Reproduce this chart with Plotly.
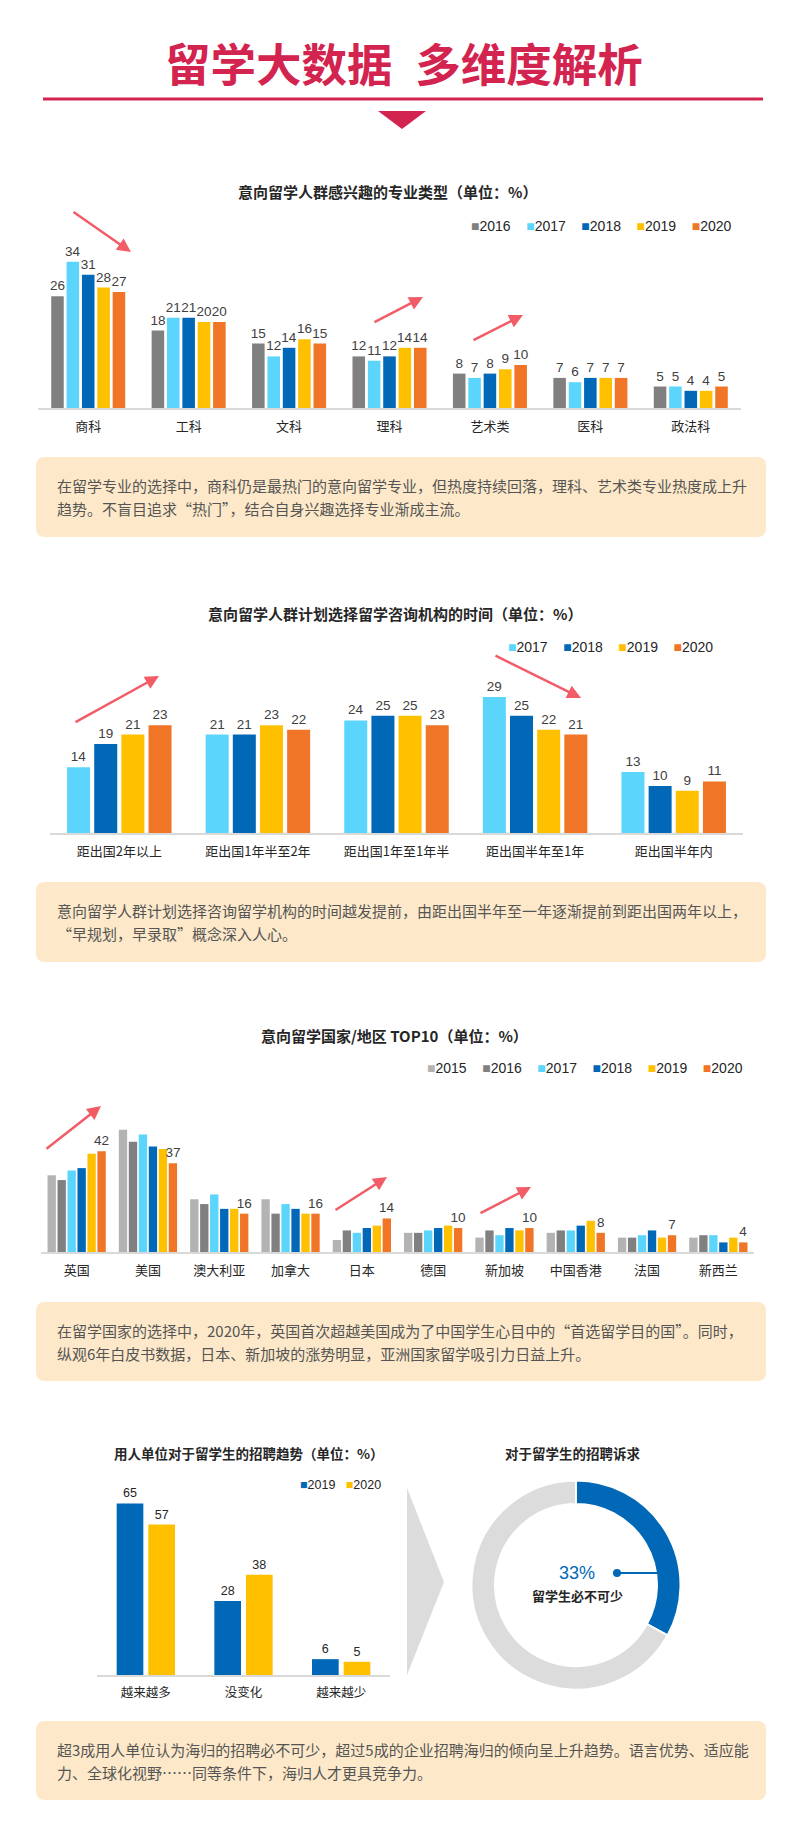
import plotly.graph_objects as go

W, H = 800, 1823


def px(x):
    return x / W


def py(y):
    return 1 - y / H


# ---------------- data ----------------
major_cats = ["商科", "工科", "文科", "理科", "艺术类", "医科", "政法科"]
major_2016 = [26, 18, 15, 12, 8, 7, 5]
major_2017 = [34, 21, 12, 11, 7, 6, 5]
major_2018 = [31, 21, 14, 12, 8, 7, 4]
major_2019 = [28, 20, 16, 14, 9, 7, 4]
major_2020 = [27, 20, 15, 14, 10, 7, 5]

timing_cats = ["距出国2年以上", "距出国1年半至2年", "距出国1年至1年半", "距出国半年至1年", "距出国半年内"]
timing_2017 = [14, 21, 24, 29, 13]
timing_2018 = [19, 21, 25, 25, 10]
timing_2019 = [21, 23, 25, 22, 9]
timing_2020 = [23, 22, 23, 21, 11]

country_cats = ["英国", "美国", "澳大利亚", "加拿大", "日本", "德国", "新加坡", "中国香港", "法国", "新西兰"]
country_2015 = [32, 51, 22, 22, 5, 8, 6, 8, 6, 6]
country_2016 = [30, 46, 20, 16, 9, 8, 9, 9, 6, 7]
country_2017 = [34, 49, 24, 20, 8, 9, 7, 9, 7, 7]
country_2018 = [35, 44, 18, 18, 10, 10, 10, 11, 9, 4]
country_2019 = [41, 43, 18, 16, 11, 11, 9, 13, 6, 6]
country_2020 = [42, 37, 16, 16, 14, 10, 10, 8, 7, 4]

hire_cats = ["越来越多", "没变化", "越来越少"]
hire_2019 = [65, 28, 6]
hire_2020 = [57, 38, 5]

demand_labels = ["留学生必不可少", "其他"]
demand_values = [33, 67]

# ---------------- styles ----------------
C2015 = "#b3b3b3"
C2016 = "#808080"
C2017 = "#5cd5fd"
C2018 = "#0068b7"
C2019 = "#ffc000"
C2020 = "#f07526"
CRIMSON = "#d3234f"
ARROW = "#f25c67"
BOX = "#fde9c9"
TXT = "#555555"
DARK = "#262626"
LBL = "#404040"
FONT = "Liberation Sans, Noto Sans CJK SC, sans-serif"
CJK = "Noto Sans CJK SC, sans-serif"

charts = [
    dict(k="", cats=major_cats,
         series=[("2016", major_2016, C2016, True), ("2017", major_2017, C2017, True),
                 ("2018", major_2018, C2018, True), ("2019", major_2019, C2019, True),
                 ("2020", major_2020, C2020, True)],
         x0=38, x1=741, base=408, top=200, unit=4.3, pitch=0.153, bw=0.125,
         lsize=13, tsize=13.5, tcolor=LBL),
    dict(k="2", cats=timing_cats,
         series=[("2017", timing_2017, C2017, True), ("2018", timing_2018, C2018, True),
                 ("2019", timing_2019, C2019, True), ("2020", timing_2020, C2020, True)],
         x0=50, x1=743, base=833, top=660, unit=4.69, pitch=0.196, bw=0.166,
         lsize=13, tsize=13.5, tcolor=LBL),
    dict(k="3", cats=country_cats,
         series=[("2015", country_2015, C2015, False), ("2016", country_2016, C2016, False),
                 ("2017", country_2017, C2017, False), ("2018", country_2018, C2018, False),
                 ("2019", country_2019, C2019, False), ("2020", country_2020, C2020, True)],
         x0=41, x1=754, base=1252, top=1080, unit=2.397, pitch=0.140, bw=0.117,
         lsize=13, tsize=13.5, tcolor=LBL),
    dict(k="4", cats=hire_cats,
         series=[("2019", hire_2019, C2018, True), ("2020", hire_2020, C2019, True)],
         x0=97, x1=390, base=1675, top=1490, unit=2.64, pitch=0.324, bw=0.273,
         lsize=12.5, tsize=12.5, tcolor=DARK),
]

fig = go.Figure()
layout = dict(
    width=W, height=H, margin=dict(l=0, r=0, t=0, b=0),
    paper_bgcolor="white", plot_bgcolor="rgba(0,0,0,0)",
    barmode="overlay", showlegend=False,
    font=dict(family=FONT, color=DARK),
)

for c in charts:
    k = c["k"]
    n = len(c["series"])
    for i, (name, vals, col, lab) in enumerate(c["series"]):
        off = (i - (n - 1) / 2) * c["pitch"] - c["bw"] / 2
        fig.add_trace(go.Bar(
            x=c["cats"], y=vals, name=name, marker=dict(color=col, line=dict(width=0)),
            width=c["bw"], offset=off,
            text=vals if lab else None, textposition="outside",
            textfont=dict(size=c["tsize"], color=c["tcolor"], family="Liberation Sans"),
            constraintext="none", cliponaxis=False,
            xaxis="x" + k, yaxis="y" + k, showlegend=False,
        ))
    layout["xaxis" + k] = dict(
        domain=[px(c["x0"]), px(c["x1"])], range=[-0.5, len(c["cats"]) - 0.5],
        anchor="y" + k, type="category", showline=True, linecolor="#d9d9d9", linewidth=2,
        showgrid=False, zeroline=False, ticks="", ticklabelstandoff=5,
        tickfont=dict(size=c["lsize"], color=DARK, family=CJK), fixedrange=True,
    )
    layout["yaxis" + k] = dict(
        domain=[py(c["base"]), py(c["top"])], range=[0, (c["base"] - c["top"]) / c["unit"]],
        anchor="x" + k, visible=False, fixedrange=True,
    )

# donut
fig.add_trace(go.Pie(
    values=demand_values, labels=demand_labels, hole=0.775, sort=False,
    direction="clockwise", rotation=0, textinfo="none",
    marker=dict(colors=[C2018, "#dcdcdc"], line=dict(color="white", width=2)),
    domain=dict(x=[px(471.5), px(680.5)], y=[py(1689.5), py(1480.5)]),
    showlegend=False,
))

ann = []


def text(x, y, s, size, color=DARK, family=CJK, xanchor="center", bold=False):
    ann.append(dict(x=px(x), y=py(y), xref="paper", yref="paper", text=("<b>%s</b>" % s) if bold else s,
                    showarrow=False, xanchor=xanchor, yanchor="middle",
                    font=dict(size=size, color=color, family=family)))


def arrow(tx, ty, hx, hy):
    ann.append(dict(x=px(hx), y=py(hy), xref="paper", yref="paper", ax=tx - hx, ay=ty - hy,
                    axref="pixel", ayref="pixel", showarrow=True, text="", arrowhead=2,
                    arrowsize=1.1, arrowwidth=2.5, arrowcolor=ARROW, standoff=0))


def legend(xr, y, items, size, gap):
    parts = ["<span style='color:%s'>■</span>%s" % (col, name) for name, col in items]
    ann.append(dict(x=px(xr), y=py(y), xref="paper", yref="paper", text=("\u00a0" * gap).join(parts),
                    showarrow=False, xanchor="right", yanchor="middle",
                    font=dict(size=size, color=DARK, family="Liberation Sans, DejaVu Sans")))


# header
ann.append(dict(x=px(404), y=py(62), xref="paper", yref="paper", text="<b>留学大数据\u2002多维度解析</b>",
                showarrow=False, xanchor="center", yanchor="middle",
                font=dict(size=45.5, color=CRIMSON, family=CJK, weight=900)))

# chart titles
text(387, 191, "意向留学人群感兴趣的专业类型（单位：%）", 15, bold=True)
text(395, 613, "意向留学人群计划选择留学咨询机构的时间（单位：%）", 15, bold=True)
text(394, 1035, "意向留学国家/地区 TOP10（单位：%）", 15, bold=True)
text(249, 1453, "用人单位对于留学生的招聘趋势（单位：%）", 13.5, bold=True)
text(573, 1453, "对于留学生的招聘诉求", 13.5, bold=True)

# legends
legend(734, 226, [(s[0], s[2]) for s in charts[0]["series"]], 14, 4)
legend(715, 647, [(s[0], s[2]) for s in charts[1]["series"]], 14, 4)
legend(745, 1068, [(s[0], s[2]) for s in charts[2]["series"]], 14, 4)
legend(383, 1485, [(s[0], s[2]) for s in charts[3]["series"]], 12.5, 3)

# trend arrows
arrow(72, 211, 131, 252)
arrow(373, 323, 423, 297)
arrow(472, 341, 523, 315)
arrow(74, 723, 159, 676)
arrow(494, 655, 581, 698)
arrow(45, 1150, 101, 1106)
arrow(334, 1211, 387, 1177)
arrow(479, 1214, 531, 1187)

# text boxes
boxes = [
    (457, 537, ["在留学专业的选择中，商科仍是最热门的意向留学专业，但热度持续回落，理科、艺术类专业热度成上升",
                "趋势。不盲目追求“热门”，结合自身兴趣选择专业渐成主流。"]),
    (882, 962, ["意向留学人群计划选择咨询留学机构的时间越发提前，由距出国半年至一年逐渐提前到距出国两年以上，",
                "“早规划，早录取”概念深入人心。"]),
    (1302, 1381, ["在留学国家的选择中，2020年，英国首次超越美国成为了中国学生心目中的“首选留学目的国”。同时，",
                  "纵观6年白皮书数据，日本、新加坡的涨势明显，亚洲国家留学吸引力日益上升。"]),
    (1721, 1800, ["超3成用人单位认为海归的招聘必不可少，超过5成的企业招聘海归的倾向呈上升趋势。语言优势、适应能",
                  "力、全球化视野……同等条件下，海归人才更具竞争力。"]),
]

shapes = []


def rrect(x0, y0, x1, y1, r, color):
    p = (f"M {px(x0 + r)},{py(y0)} L {px(x1 - r)},{py(y0)} Q {px(x1)},{py(y0)} {px(x1)},{py(y0 + r)} "
         f"L {px(x1)},{py(y1 - r)} Q {px(x1)},{py(y1)} {px(x1 - r)},{py(y1)} "
         f"L {px(x0 + r)},{py(y1)} Q {px(x0)},{py(y1)} {px(x0)},{py(y1 - r)} "
         f"L {px(x0)},{py(y0 + r)} Q {px(x0)},{py(y0)} {px(x0 + r)},{py(y0)} Z")
    shapes.append(dict(type="path", path=p, xref="paper", yref="paper", fillcolor=color,
                       line=dict(width=0), layer="below"))


for (y0, y1, lines) in boxes:
    rrect(36, y0, 766, y1, 9, BOX)
    mid = (y0 + y1) / 2
    text(55, mid - 11.5, lines[0], 15, color=TXT, xanchor="left")
    text(55, mid + 11.5, lines[1], 15, color=TXT, xanchor="left")

# header line & triangle
shapes.append(dict(type="line", xref="paper", yref="paper", x0=px(43), x1=px(763), y0=py(99), y1=py(99),
                   line=dict(color=CRIMSON, width=3)))
shapes.append(dict(type="path", xref="paper", yref="paper",
                   path=f"M {px(378)},{py(111)} L {px(426)},{py(111)} L {px(402)},{py(129)} Z",
                   fillcolor=CRIMSON, line=dict(width=0)))
# chevron
shapes.append(dict(type="path", xref="paper", yref="paper",
                   path=f"M {px(407)},{py(1488)} L {px(444)},{py(1582)} L {px(407)},{py(1675)} Z",
                   fillcolor="#dcdcdc", line=dict(width=0)))
# donut leader
shapes.append(dict(type="line", xref="paper", yref="paper", x0=px(617), x1=px(658), y0=py(1573), y1=py(1573),
                   line=dict(color=C2018, width=2)))
shapes.append(dict(type="circle", xref="paper", yref="paper", x0=px(613), x1=px(621), y0=py(1577), y1=py(1569),
                   fillcolor=C2018, line=dict(width=0)))
text(577, 1573, "33%", 18, color=C2018, family="Liberation Sans")
text(577, 1595, "留学生必不可少", 13, bold=True)

layout["annotations"] = ann
layout["shapes"] = shapes
fig.update_layout(**layout)

fig.write_html("out.html", config={"displayModeBar": False},
               post_script="document.body.style.margin='0';")
